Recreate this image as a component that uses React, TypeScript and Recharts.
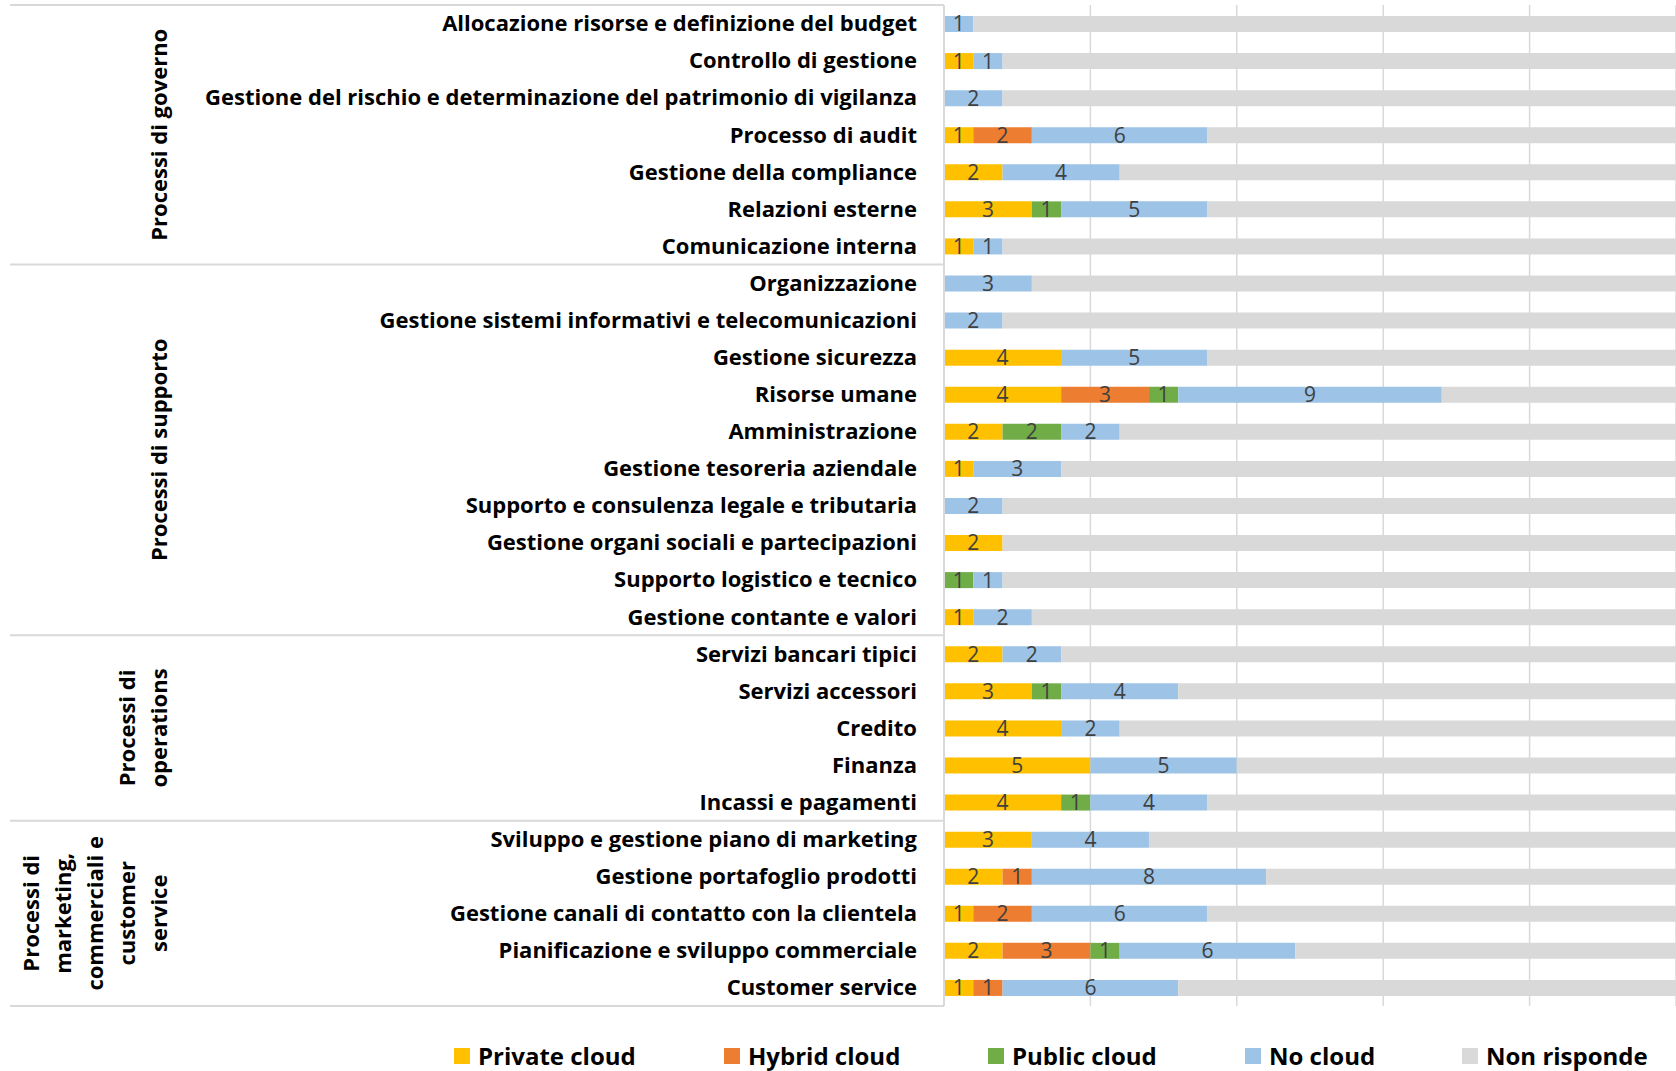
import { Bar, BarChart, CartesianGrid, LabelList, XAxis, YAxis } from "recharts";

const categories = [
  "Allocazione risorse e definizione del budget",
  "Controllo di gestione",
  "Gestione del rischio e determinazione del patrimonio di vigilanza",
  "Processo di audit",
  "Gestione della compliance",
  "Relazioni esterne",
  "Comunicazione interna",
  "Organizzazione",
  "Gestione sistemi informativi e telecomunicazioni",
  "Gestione sicurezza",
  "Risorse umane",
  "Amministrazione",
  "Gestione tesoreria aziendale",
  "Supporto e consulenza legale e tributaria",
  "Gestione organi sociali e partecipazioni",
  "Supporto logistico e tecnico",
  "Gestione contante e valori",
  "Servizi bancari tipici",
  "Servizi accessori",
  "Credito",
  "Finanza",
  "Incassi e pagamenti",
  "Sviluppo e gestione piano di marketing",
  "Gestione portafoglio prodotti",
  "Gestione canali di contatto con la clientela",
  "Pianificazione e sviluppo commerciale",
  "Customer service",
];

const privateCloud = [0, 1, 0, 1, 2, 3, 1, 0, 0, 4, 4, 2, 1, 0, 2, 0, 1, 2, 3, 4, 5, 4, 3, 2, 1, 2, 1];
const hybridCloud = [0, 0, 0, 2, 0, 0, 0, 0, 0, 0, 3, 0, 0, 0, 0, 0, 0, 0, 0, 0, 0, 0, 0, 1, 2, 3, 1];
const publicCloud = [0, 0, 0, 0, 0, 1, 0, 0, 0, 0, 1, 2, 0, 0, 0, 1, 0, 0, 1, 0, 0, 1, 0, 0, 0, 1, 0];
const noCloud = [1, 1, 2, 6, 4, 5, 1, 3, 2, 5, 9, 2, 3, 2, 0, 1, 2, 2, 4, 2, 5, 4, 4, 8, 6, 6, 6];
const nonRisponde = [25, 24, 24, 17, 20, 17, 24, 23, 24, 17, 9, 20, 22, 24, 24, 24, 23, 22, 18, 20, 16, 17, 19, 15, 17, 14, 18];

const xTicks = [0, 5, 10, 15, 20, 25];

const groups = [
  { lines: ["Processi di governo"], count: 7 },
  { lines: ["Processi di supporto"], count: 10 },
  { lines: ["Processi di", "operations"], count: 5 },
  { lines: ["Processi di", "marketing,", "commerciali e", "customer", "service"], count: 5 },
];

const series = [
  { key: "privateCloud", name: "Private cloud", color: "#FFC000", labels: true },
  { key: "hybridCloud", name: "Hybrid cloud", color: "#ED7D31", labels: true },
  { key: "publicCloud", name: "Public cloud", color: "#70AD47", labels: true },
  { key: "noCloud", name: "No cloud", color: "#9DC3E6", labels: true },
  { key: "nonRisponde", name: "Non risponde", color: "#D9D9D9", labels: false },
];

const data = categories.map((name, i) => ({
  name,
  privateCloud: privateCloud[i],
  hybridCloud: hybridCloud[i],
  publicCloud: publicCloud[i],
  noCloud: noCloud[i],
  nonRisponde: nonRisponde[i],
}));

const W = 1676;
const H = 1071;
const M = { top: 5, right: 0, bottom: 65, left: 0 };
const AXIS_W = 944;
const FONT = "'Open Sans', Lato, sans-serif";
const LABEL_FONT = "'Liberation Sans Narrow', 'Open Sans', sans-serif";

function GroupPanel() {
  const plotH = H - M.top - M.bottom;
  const rowH = plotH / categories.length;
  let start = 0;
  const items = groups.map((g, gi) => {
    const y0 = M.top + start * rowH;
    const cy = M.top + (start + g.count / 2) * rowH;
    start += g.count;
    const n = g.lines.length;
    return (
      <g key={gi}>
        {g.lines.map((line, li) => {
          const x = 158 - (n - 1 - li) * 32;
          return (
            <text
              key={li}
              x={x}
              y={cy}
              transform={`rotate(-90 ${x} ${cy})`}
              textAnchor="middle"
              dominantBaseline="central"
              fontFamily={FONT}
              fontWeight={700}
              fontSize={22}
              fill="#000"
            >
              {line}
            </text>
          );
        })}
        <line x1={10} x2={AXIS_W} y1={y0} y2={y0} stroke="#D9D9D9" strokeWidth={2} />
      </g>
    );
  });
  const yEnd = M.top + categories.length * rowH;
  return (
    <svg width={W} height={H} style={{ position: "absolute", left: 0, top: 0, pointerEvents: "none" }}>
      {items}
      <line x1={10} x2={AXIS_W} y1={yEnd} y2={yEnd} stroke="#D9D9D9" strokeWidth={2} />
    </svg>
  );
}

function LegendRow() {
  const lefts = [454, 724, 988, 1245, 1462];
  return (
    <div style={{ position: "absolute", left: 0, top: 1042, width: W, height: 27 }}>
      {series.map((s, i) => (
        <div
          key={s.key}
          style={{
            position: "absolute",
            left: lefts[i],
            top: 0,
            height: 27,
            lineHeight: "27px",
            display: "flex",
            alignItems: "center",
            fontFamily: FONT,
            fontWeight: 700,
            fontSize: 24,
            color: "#000",
            whiteSpace: "nowrap",
          }}
        >
          <span style={{ display: "inline-block", width: 16, height: 16, background: s.color, marginRight: 8 }} />
          {s.name}
        </div>
      ))}
    </div>
  );
}

export default function App() {
  return (
    <div style={{ position: "relative", width: W, height: H, overflow: "hidden", background: "#fff" }}>
      <style>{`body{margin:0}`}</style>
      <BarChart width={W} height={H} data={data} layout="vertical" margin={M} barSize={16}>
        <CartesianGrid horizontal={false} stroke="#D9D9D9" strokeWidth={1.5} />
        <XAxis type="number" domain={[0, 25]} ticks={xTicks} allowDataOverflow hide />
        <YAxis
          type="category"
          dataKey="name"
          width={AXIS_W}
          interval={0}
          tickLine={false}
          tickSize={0}
          tickMargin={27}
          axisLine={{ stroke: "#D9D9D9", strokeWidth: 2 }}
          tick={{ fill: "#000", fontSize: 22, fontWeight: 700, fontFamily: FONT }}
        />
        {series.map((s) => (
          <Bar key={s.key} dataKey={s.key} stackId="a" fill={s.color} isAnimationActive={false}>
            {s.labels && (
              <LabelList
                dataKey={s.key}
                position="center"
                fill="#404040"
                fontSize={21}
                fontFamily={LABEL_FONT}
                formatter={(v: number) => (v ? v : "")}
              />
            )}
          </Bar>
        ))}
      </BarChart>
      <GroupPanel />
      <LegendRow />
    </div>
  );
}
